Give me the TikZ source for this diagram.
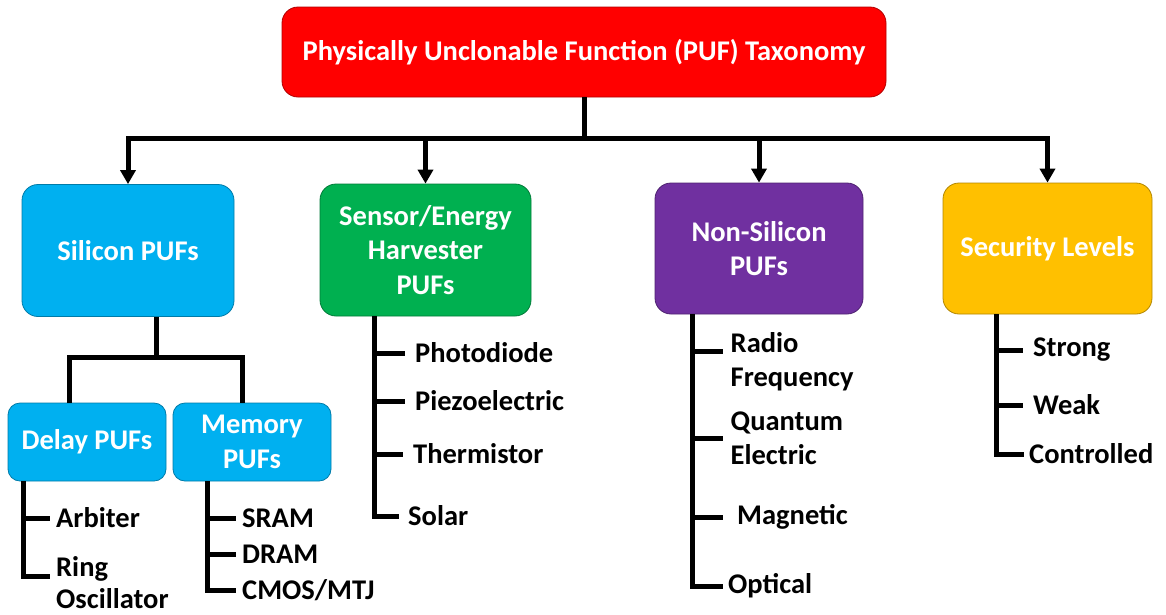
\documentclass[tikz,border=0pt]{standalone}
\usepackage{fontspec}
\setmainfont{Carlito}
\usetikzlibrary{arrows.meta}
\definecolor{pufred}{HTML}{FF0000}
\definecolor{pufblue}{HTML}{00B0F0}
\definecolor{pufgreen}{HTML}{00B050}
\definecolor{pufpurple}{HTML}{7030A0}
\definecolor{pufgold}{HTML}{FFC000}
\tikzset{
  box/.style={rounded corners=16pt, draw=#1!70!black, fill=#1, line width=0.8pt,
    text=white, align=center, inner sep=0pt,
    font=\bfseries\fontsize{28.5}{34.5}\selectfont},
  sz/.style 2 args={minimum width=#1, minimum height=#2},
  tree/.style={line width=5pt, black},
  feed/.style={line width=5pt, black, -{Triangle[width=15pt,length=14pt]}},
  leaf/.style={anchor=west, align=left, inner xsep=6pt, inner ysep=0pt,
    font=\bfseries\fontsize{28.5}{34.5}\selectfont}
}
\begin{document}
\begin{tikzpicture}[x=1pt,y=-1pt]
\useasboundingbox (0,0) rectangle (1166,614);

% main categories
\node[box=pufred, sz={604pt}{90pt}] (top) at (584,52) {Physically Unclonable Function (PUF) Taxonomy};
\node[box=pufblue, sz={212pt}{132pt}] (sil) at (128,250.5) {Silicon PUFs};
\node[box=pufgreen, sz={211pt}{132pt}] (sen) at (425.5,250) {Sensor/Energy\\Harvester\\PUFs};
\node[box=pufpurple, sz={208pt}{131pt}] (non) at (759,248.5) {Non-Silicon\\PUFs};
\node[box=pufgold, sz={209pt}{131pt}] (sec) at (1047.5,248.5) {Security Levels};

% silicon sub-categories
\node[box=pufblue, sz={158pt}{78pt}, rounded corners=12pt] (delay) at (87,442) {Delay PUFs};
\node[box=pufblue, sz={158pt}{78pt}, rounded corners=12pt] (mem) at (252,442) {Memory\\PUFs};

% bus from the root to the four categories
\coordinate (bus) at (584,138);
\draw[tree] (top.south) -- (bus);
\draw[tree, line cap=rect] (sil.north |- bus) -- (sec.north |- bus);
\draw[feed] (sil.north |- bus) -- (sil.north);
\draw[feed] (sen.north |- bus) -- (sen.north);
\draw[feed] (non.north |- bus) -- (non.north);
\draw[feed] (sec.north |- bus) -- (sec.north);

% silicon split
\coordinate (sj) at (156,357);
\coordinate (dj) at (69,357);
\coordinate (mj) at (242,357);
\draw[tree] (sj |- sil.south) -- (sj);
\draw[tree] (dj |- delay.north) -- (dj) -- (mj) -- (mj |- mem.north);

% leaves: delay
\node[leaf] (arb) at (50,518) {Arbiter};
\node[leaf, font=\bfseries\fontsize{28.5}{31.5}\selectfont] (ring) at (50,582.5) {Ring\\Oscillator};
\coordinate (dl) at (23,0);
\draw[tree] (dl |- delay.south) |- ([yshift=6.5pt]ring.west);
\draw[tree] (dl |- arb.west) -- (arb.west);

% leaves: memory
\node[leaf] (sram) at (236,518) {SRAM};
\node[leaf] (dram) at (236,554) {DRAM};
\node[leaf] (cmos) at (236,590) {CMOS/MTJ};
\coordinate (ml) at (207,0);
\draw[tree] (ml |- mem.south) |- (cmos.west);
\draw[tree] (ml |- sram.west) -- (sram.west);
\draw[tree] (ml |- dram.west) -- (dram.west);

% leaves: sensor / energy harvester
\node[leaf, inner xsep=10pt] (photo) at (405,353) {Photodiode};
\node[leaf, inner xsep=10pt] (piezo) at (405,401) {Piezoelectric};
\node[leaf, inner xsep=10pt] (therm) at (403,454) {Thermistor};
\node[leaf, inner xsep=9pt] (solar) at (399,516) {Solar};
\coordinate (sl) at (374,0);
\draw[tree] (sl |- sen.south) |- (solar.west);
\draw[tree] (sl |- photo.west) -- (photo.west);
\draw[tree] (sl |- piezo.west) -- (piezo.west);
\draw[tree] (sl |- therm.west) -- (therm.west);

% leaves: non-silicon
\node[leaf, inner xsep=7.5pt] (radio) at (723,361.5) {Radio\\Frequency};
\node[leaf, inner xsep=7.5pt] (quant) at (723,438) {Quantum\\Electric};
\node[leaf] (magn) at (731,517) {Magnetic};
\node[leaf, inner xsep=5pt] (opt) at (723,586) {Optical};
\coordinate (nl) at (692,0);
\draw[tree] (nl |- non.south) |- (opt.west);
\draw[tree] (nl |- radio.west) ++(0,-10.5) -- ([yshift=10.5pt]radio.west);
\draw[tree] (nl |- quant.west) -- (quant.west);
\draw[tree] (nl |- magn.west) -- ([xshift=-8pt]magn.west);

% leaves: security levels
\node[leaf, inner xsep=10pt] (strong) at (1023,350) {Strong};
\node[leaf, inner xsep=10pt] (weak) at (1023,405) {Weak};
\node[leaf, inner xsep=5pt] (ctrl) at (1024,454) {Controlled};
\coordinate (cl) at (996,0);
\draw[tree] (cl |- sec.south) |- (ctrl.west);
\draw[tree] (cl |- strong.west) -- (strong.west);
\draw[tree] (cl |- weak.west) -- (weak.west);
\end{tikzpicture}
\end{document}
